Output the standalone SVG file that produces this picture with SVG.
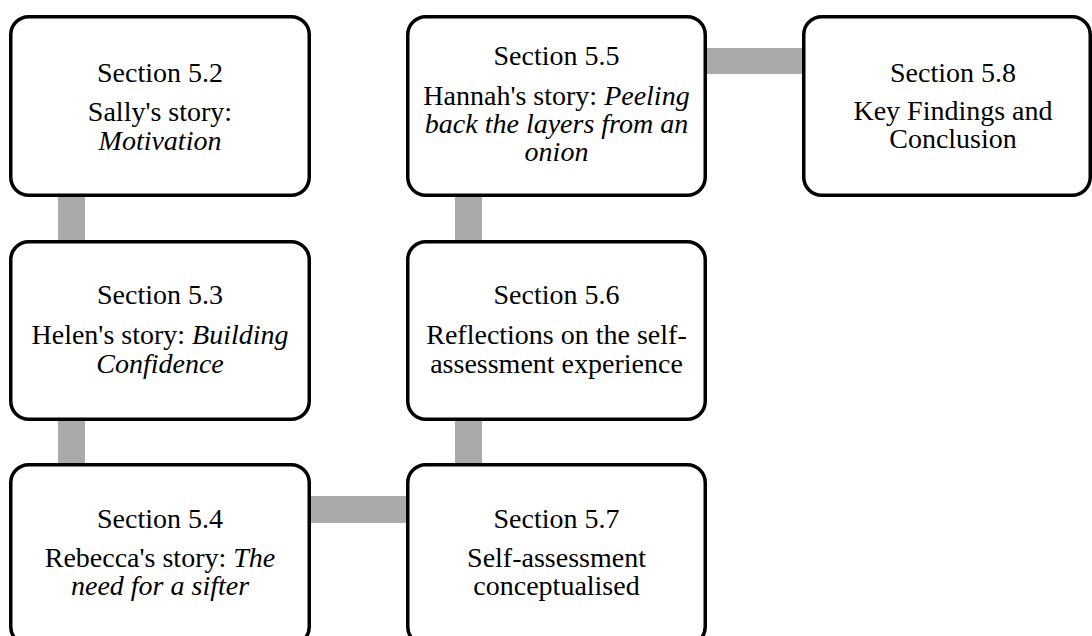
<svg xmlns="http://www.w3.org/2000/svg" width="1092" height="636" viewBox="0 0 1092 636">
  <style>
    .box { fill: #ffffff; stroke: #000000; stroke-width: 3.5; }
    .link { fill: #aaaaaa; }
    .lbl { font-family: 'Liberation Serif', 'Times New Roman', Times, 'DejaVu Serif', serif; font-size: 28px; fill: #000000; text-anchor: middle; }
    .it { font-style: italic; }
  </style>
  <rect width="1092" height="636" fill="#ffffff"/>

  <!-- connectors drawn beneath the boxes -->
  <g id="connectors">
    <rect class="link" x="58" y="190" width="27" height="60"/>
    <rect class="link" x="58" y="414" width="27" height="56"/>
    <rect class="link" x="455" y="190" width="27" height="60"/>
    <rect class="link" x="455" y="414" width="27" height="56"/>
    <rect class="link" x="700" y="48" width="110" height="26"/>
    <rect class="link" x="304" y="496" width="110" height="27"/>
  </g>

  <g id="s52" class="lbl" font-family="Liberation Serif, serif">
    <rect class="box" x="10.75" y="16.75" width="298.5" height="178.5" rx="18"/>
    <text x="160" y="82">Section 5.2</text>
    <text x="160" y="121">Sally's story:</text>
    <text x="160" y="149.5" class="it">Motivation</text>
  </g>

  <g id="s53" class="lbl" font-family="Liberation Serif, serif">
    <rect class="box" x="10.75" y="241.75" width="298.5" height="177.5" rx="18"/>
    <text x="160" y="303.5">Section 5.3</text>
    <text x="160" y="344">Helen's story: <tspan class="it">Building</tspan></text>
    <text x="160" y="372.5" class="it">Confidence</text>
  </g>

  <g id="s54" class="lbl" font-family="Liberation Serif, serif">
    <rect class="box" x="10.75" y="464.75" width="298.5" height="180" rx="18"/>
    <text x="160" y="528">Section 5.4</text>
    <text x="160" y="567">Rebecca's story: <tspan class="it">The</tspan></text>
    <text x="160" y="595" class="it">need for a sifter</text>
  </g>

  <g id="s55" class="lbl" font-family="Liberation Serif, serif">
    <rect class="box" x="407.75" y="16.75" width="297.5" height="178.5" rx="18"/>
    <text x="556.5" y="65">Section 5.5</text>
    <text x="556.5" y="105">Hannah's story: <tspan class="it">Peeling</tspan></text>
    <text x="556.5" y="133" class="it">back the layers from an</text>
    <text x="556.5" y="161" class="it">onion</text>
  </g>

  <g id="s56" class="lbl" font-family="Liberation Serif, serif">
    <rect class="box" x="407.75" y="241.75" width="297.5" height="177.5" rx="18"/>
    <text x="556.5" y="303.5">Section 5.6</text>
    <text x="556.5" y="344">Reflections on the self-</text>
    <text x="556.5" y="372.5">assessment experience</text>
  </g>

  <g id="s57" class="lbl" font-family="Liberation Serif, serif">
    <rect class="box" x="407.75" y="464.75" width="297.5" height="180" rx="18"/>
    <text x="556.5" y="528">Section 5.7</text>
    <text x="556.5" y="567">Self-assessment</text>
    <text x="556.5" y="595">conceptualised</text>
  </g>

  <g id="s58" class="lbl" font-family="Liberation Serif, serif">
    <rect class="box" x="803.75" y="16.75" width="286.5" height="178.5" rx="18"/>
    <text x="953" y="82">Section 5.8</text>
    <text x="953" y="120">Key Findings and</text>
    <text x="953" y="148">Conclusion</text>
  </g>
</svg>
